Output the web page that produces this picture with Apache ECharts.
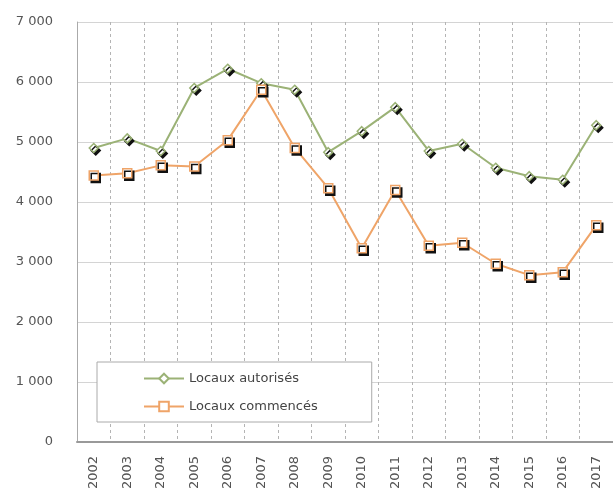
<!DOCTYPE html>
<html>
<head>
<meta charset="utf-8">
<script src="https://cdn.jsdelivr.net/npm/echarts@6/dist/echarts.min.js"></script>
<style>
html,body{margin:0;padding:0;background:#fff;}
#chart{width:613px;height:492px;}
</style>
</head>
<body>
<div id="chart"></div>
<script>
const years = ['2002','2003','2004','2005','2006','2007','2008','2009','2010','2011','2012','2013','2014','2015','2016','2017'];
const autorises = [4900, 5060, 4850, 5900, 6220, 5980, 5870, 4830, 5180, 5580, 4850, 4970, 4570, 4430, 4370, 5280];
const commences = [4440, 4480, 4610, 4590, 5030, 5870, 4900, 4230, 3230, 4200, 3270, 3320, 2970, 2780, 2830, 3610];
const yTicks = [0, 1000, 2000, 3000, 4000, 5000, 6000, 7000];

const fmt = v => String(v).replace(/\B(?=(\d{3})+(?!\d))/g, ' ');
const chart = echarts.init(document.getElementById('chart'), null, {renderer:'canvas'});
const shadow = {shadowColor:'#111', shadowBlur:0, shadowOffsetX:2, shadowOffsetY:2.5};
chart.setOption({
  animation:false,
  backgroundColor:'#fff',
  textStyle:{fontFamily:'DejaVu Sans'},
  grid:{left:77, top:22, bottom:50, right:-5, containLabel:false, show:false},
  legend:{
    orient:'vertical', left:97, top:362,
    padding:[10, 54, 9, 46],
    itemGap:15, itemWidth:40, itemHeight:12,
    backgroundColor:'#fff', borderColor:'#aaa', borderWidth:1,
    textStyle:{color:'#444', fontSize:13, fontFamily:'DejaVu Sans'},
    data:['Locaux autorisés','Locaux commencés']
  },
  xAxis:{
    type:'category', data:years, boundaryGap:true,
    axisLine:{lineStyle:{color:'#999', width:2}},
    axisTick:{show:false},
    axisLabel:{rotate:90, color:'#555', fontSize:13, margin:14},
    splitLine:{show:true, interval:0, lineStyle:{color:'#b4b4b4', type:[3,3], width:1}}
  },
  yAxis:{
    type:'value', min:yTicks[0], max:yTicks[yTicks.length-1], interval:1000,
    axisLine:{show:true, lineStyle:{color:'#aaa', width:1}},
    axisTick:{show:false},
    axisLabel:{color:'#555', fontSize:13, margin:24, formatter:fmt},
    splitLine:{lineStyle:{color:'#d4d4d4', width:1}}
  },
  series:[
    {
      name:'Locaux autorisés', type:'line', data:autorises,
      symbol:'diamond', symbolSize:9, showAllSymbol:true,
      lineStyle:{color:'#9bb276', width:2},
      itemStyle:Object.assign({color:'#fff', borderColor:'#9bb276', borderWidth:1.5}, shadow),
      z:3
    },
    {
      name:'Locaux commencés', type:'line', data:commences,
      symbol:'rect', symbolSize:9, showAllSymbol:true,
      lineStyle:{color:'#efa468', width:2},
      itemStyle:Object.assign({color:'#fff', borderColor:'#efa468', borderWidth:1.5}, shadow),
      z:3
    }
  ]
});
</script>
</body>
</html>
